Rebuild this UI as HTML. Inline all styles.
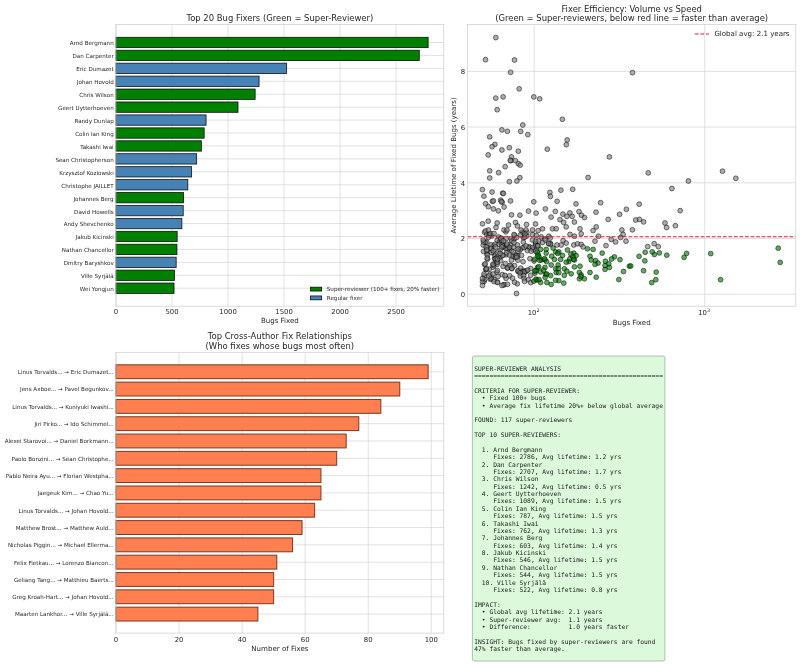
<!DOCTYPE html>
<html><head><meta charset="utf-8"><title>Super-Reviewer Analysis</title>
<style>html,body{margin:0;padding:0;background:#fff}svg text{white-space:pre}</style></head>
<body>
<svg width="800" height="664" viewBox="0 0 800 664" style="display:block">
<rect width="800" height="664" fill="#fff"/>
<rect x="116.0" y="24.5" width="327.75" height="281.7" fill="#fff"/>
<line x1="116.00" y1="24.5" x2="116.00" y2="306.2" stroke="#d0d0d0" stroke-width="0.65"/>
<text x="116.00" y="314.10" font-size="6.9" text-anchor="middle" font-family="'DejaVu Sans','Liberation Sans',sans-serif" fill="#262626" >0</text>
<line x1="172.02" y1="24.5" x2="172.02" y2="306.2" stroke="#d0d0d0" stroke-width="0.65"/>
<text x="172.02" y="314.10" font-size="6.9" text-anchor="middle" font-family="'DejaVu Sans','Liberation Sans',sans-serif" fill="#262626" >500</text>
<line x1="228.04" y1="24.5" x2="228.04" y2="306.2" stroke="#d0d0d0" stroke-width="0.65"/>
<text x="228.04" y="314.10" font-size="6.9" text-anchor="middle" font-family="'DejaVu Sans','Liberation Sans',sans-serif" fill="#262626" >1000</text>
<line x1="284.06" y1="24.5" x2="284.06" y2="306.2" stroke="#d0d0d0" stroke-width="0.65"/>
<text x="284.06" y="314.10" font-size="6.9" text-anchor="middle" font-family="'DejaVu Sans','Liberation Sans',sans-serif" fill="#262626" >1500</text>
<line x1="340.08" y1="24.5" x2="340.08" y2="306.2" stroke="#d0d0d0" stroke-width="0.65"/>
<text x="340.08" y="314.10" font-size="6.9" text-anchor="middle" font-family="'DejaVu Sans','Liberation Sans',sans-serif" fill="#262626" >2000</text>
<line x1="396.10" y1="24.5" x2="396.10" y2="306.2" stroke="#d0d0d0" stroke-width="0.65"/>
<text x="396.10" y="314.10" font-size="6.9" text-anchor="middle" font-family="'DejaVu Sans','Liberation Sans',sans-serif" fill="#262626" >2500</text>
<line x1="116.0" y1="42.48" x2="443.75" y2="42.48" stroke="#d0d0d0" stroke-width="0.65"/>
<line x1="116.0" y1="55.41" x2="443.75" y2="55.41" stroke="#d0d0d0" stroke-width="0.65"/>
<line x1="116.0" y1="68.35" x2="443.75" y2="68.35" stroke="#d0d0d0" stroke-width="0.65"/>
<line x1="116.0" y1="81.28" x2="443.75" y2="81.28" stroke="#d0d0d0" stroke-width="0.65"/>
<line x1="116.0" y1="94.21" x2="443.75" y2="94.21" stroke="#d0d0d0" stroke-width="0.65"/>
<line x1="116.0" y1="107.15" x2="443.75" y2="107.15" stroke="#d0d0d0" stroke-width="0.65"/>
<line x1="116.0" y1="120.08" x2="443.75" y2="120.08" stroke="#d0d0d0" stroke-width="0.65"/>
<line x1="116.0" y1="133.02" x2="443.75" y2="133.02" stroke="#d0d0d0" stroke-width="0.65"/>
<line x1="116.0" y1="145.95" x2="443.75" y2="145.95" stroke="#d0d0d0" stroke-width="0.65"/>
<line x1="116.0" y1="158.88" x2="443.75" y2="158.88" stroke="#d0d0d0" stroke-width="0.65"/>
<line x1="116.0" y1="171.82" x2="443.75" y2="171.82" stroke="#d0d0d0" stroke-width="0.65"/>
<line x1="116.0" y1="184.75" x2="443.75" y2="184.75" stroke="#d0d0d0" stroke-width="0.65"/>
<line x1="116.0" y1="197.68" x2="443.75" y2="197.68" stroke="#d0d0d0" stroke-width="0.65"/>
<line x1="116.0" y1="210.62" x2="443.75" y2="210.62" stroke="#d0d0d0" stroke-width="0.65"/>
<line x1="116.0" y1="223.55" x2="443.75" y2="223.55" stroke="#d0d0d0" stroke-width="0.65"/>
<line x1="116.0" y1="236.49" x2="443.75" y2="236.49" stroke="#d0d0d0" stroke-width="0.65"/>
<line x1="116.0" y1="249.42" x2="443.75" y2="249.42" stroke="#d0d0d0" stroke-width="0.65"/>
<line x1="116.0" y1="262.35" x2="443.75" y2="262.35" stroke="#d0d0d0" stroke-width="0.65"/>
<line x1="116.0" y1="275.29" x2="443.75" y2="275.29" stroke="#d0d0d0" stroke-width="0.65"/>
<line x1="116.0" y1="288.22" x2="443.75" y2="288.22" stroke="#d0d0d0" stroke-width="0.65"/>
<rect x="116.0" y="37.30" width="312.14" height="10.35" fill="#008000" stroke="#000" stroke-opacity="0.9" stroke-width="0.8"/>
<text x="113.70" y="45.38" font-size="5.6" text-anchor="end" font-family="'DejaVu Sans','Liberation Sans',sans-serif" fill="#262626" >Arnd Bergmann</text>
<rect x="116.0" y="50.24" width="303.29" height="10.35" fill="#008000" stroke="#000" stroke-opacity="0.9" stroke-width="0.8"/>
<text x="113.70" y="58.31" font-size="5.6" text-anchor="end" font-family="'DejaVu Sans','Liberation Sans',sans-serif" fill="#262626" >Dan Carpenter</text>
<rect x="116.0" y="63.17" width="170.64" height="10.35" fill="#4682b4" stroke="#000" stroke-opacity="0.9" stroke-width="0.8"/>
<text x="113.70" y="71.25" font-size="5.6" text-anchor="end" font-family="'DejaVu Sans','Liberation Sans',sans-serif" fill="#262626" >Eric Dumazet</text>
<rect x="116.0" y="76.11" width="143.07" height="10.35" fill="#4682b4" stroke="#000" stroke-opacity="0.9" stroke-width="0.8"/>
<text x="113.70" y="84.18" font-size="5.6" text-anchor="end" font-family="'DejaVu Sans','Liberation Sans',sans-serif" fill="#262626" >Johan Hovold</text>
<rect x="116.0" y="89.04" width="139.15" height="10.35" fill="#008000" stroke="#000" stroke-opacity="0.9" stroke-width="0.8"/>
<text x="113.70" y="97.11" font-size="5.6" text-anchor="end" font-family="'DejaVu Sans','Liberation Sans',sans-serif" fill="#262626" >Chris Wilson</text>
<rect x="116.0" y="101.97" width="122.01" height="10.35" fill="#008000" stroke="#000" stroke-opacity="0.9" stroke-width="0.8"/>
<text x="113.70" y="110.05" font-size="5.6" text-anchor="end" font-family="'DejaVu Sans','Liberation Sans',sans-serif" fill="#262626" >Geert Uytterhoeven</text>
<rect x="116.0" y="114.91" width="90.08" height="10.35" fill="#4682b4" stroke="#000" stroke-opacity="0.9" stroke-width="0.8"/>
<text x="113.70" y="122.98" font-size="5.6" text-anchor="end" font-family="'DejaVu Sans','Liberation Sans',sans-serif" fill="#262626" >Randy Dunlap</text>
<rect x="116.0" y="127.84" width="88.18" height="10.35" fill="#008000" stroke="#000" stroke-opacity="0.9" stroke-width="0.8"/>
<text x="113.70" y="135.92" font-size="5.6" text-anchor="end" font-family="'DejaVu Sans','Liberation Sans',sans-serif" fill="#262626" >Colin Ian King</text>
<rect x="116.0" y="140.78" width="85.37" height="10.35" fill="#008000" stroke="#000" stroke-opacity="0.9" stroke-width="0.8"/>
<text x="113.70" y="148.85" font-size="5.6" text-anchor="end" font-family="'DejaVu Sans','Liberation Sans',sans-serif" fill="#262626" >Takashi Iwai</text>
<rect x="116.0" y="153.71" width="80.67" height="10.35" fill="#4682b4" stroke="#000" stroke-opacity="0.9" stroke-width="0.8"/>
<text x="113.70" y="161.78" font-size="5.6" text-anchor="end" font-family="'DejaVu Sans','Liberation Sans',sans-serif" fill="#262626" >Sean Christopherson</text>
<rect x="116.0" y="166.64" width="75.63" height="10.35" fill="#4682b4" stroke="#000" stroke-opacity="0.9" stroke-width="0.8"/>
<text x="113.70" y="174.72" font-size="5.6" text-anchor="end" font-family="'DejaVu Sans','Liberation Sans',sans-serif" fill="#262626" >Krzysztof Kozlowski</text>
<rect x="116.0" y="179.58" width="71.82" height="10.35" fill="#4682b4" stroke="#000" stroke-opacity="0.9" stroke-width="0.8"/>
<text x="113.70" y="187.65" font-size="5.6" text-anchor="end" font-family="'DejaVu Sans','Liberation Sans',sans-serif" fill="#262626" >Christophe JAILLET</text>
<rect x="116.0" y="192.51" width="67.56" height="10.35" fill="#008000" stroke="#000" stroke-opacity="0.9" stroke-width="0.8"/>
<text x="113.70" y="200.58" font-size="5.6" text-anchor="end" font-family="'DejaVu Sans','Liberation Sans',sans-serif" fill="#262626" >Johannes Berg</text>
<rect x="116.0" y="205.45" width="67.22" height="10.35" fill="#4682b4" stroke="#000" stroke-opacity="0.9" stroke-width="0.8"/>
<text x="113.70" y="213.52" font-size="5.6" text-anchor="end" font-family="'DejaVu Sans','Liberation Sans',sans-serif" fill="#262626" >David Howells</text>
<rect x="116.0" y="218.38" width="65.88" height="10.35" fill="#4682b4" stroke="#000" stroke-opacity="0.9" stroke-width="0.8"/>
<text x="113.70" y="226.45" font-size="5.6" text-anchor="end" font-family="'DejaVu Sans','Liberation Sans',sans-serif" fill="#262626" >Andy Shevchenko</text>
<rect x="116.0" y="231.31" width="61.17" height="10.35" fill="#008000" stroke="#000" stroke-opacity="0.9" stroke-width="0.8"/>
<text x="113.70" y="239.39" font-size="5.6" text-anchor="end" font-family="'DejaVu Sans','Liberation Sans',sans-serif" fill="#262626" >Jakub Kicinski</text>
<rect x="116.0" y="244.25" width="60.95" height="10.35" fill="#008000" stroke="#000" stroke-opacity="0.9" stroke-width="0.8"/>
<text x="113.70" y="252.32" font-size="5.6" text-anchor="end" font-family="'DejaVu Sans','Liberation Sans',sans-serif" fill="#262626" >Nathan Chancellor</text>
<rect x="116.0" y="257.18" width="60.17" height="10.35" fill="#4682b4" stroke="#000" stroke-opacity="0.9" stroke-width="0.8"/>
<text x="113.70" y="265.25" font-size="5.6" text-anchor="end" font-family="'DejaVu Sans','Liberation Sans',sans-serif" fill="#262626" >Dmitry Baryshkov</text>
<rect x="116.0" y="270.11" width="58.48" height="10.35" fill="#008000" stroke="#000" stroke-opacity="0.9" stroke-width="0.8"/>
<text x="113.70" y="278.19" font-size="5.6" text-anchor="end" font-family="'DejaVu Sans','Liberation Sans',sans-serif" fill="#262626" >Ville Syrjälä</text>
<rect x="116.0" y="283.05" width="58.04" height="10.35" fill="#008000" stroke="#000" stroke-opacity="0.9" stroke-width="0.8"/>
<text x="113.70" y="291.12" font-size="5.6" text-anchor="end" font-family="'DejaVu Sans','Liberation Sans',sans-serif" fill="#262626" >Wei Yongjun</text>
<rect x="116.0" y="24.5" width="327.75" height="281.7" fill="none" stroke="#cccccc" stroke-width="0.7"/>
<text x="279.88" y="20.60" font-size="8.43" text-anchor="middle" font-family="'DejaVu Sans','Liberation Sans',sans-serif" fill="#262626" >Top 20 Bug Fixers (Green = Super-Reviewer)</text>
<text x="279.88" y="323.30" font-size="7.05" text-anchor="middle" font-family="'DejaVu Sans','Liberation Sans',sans-serif" fill="#262626" >Bugs Fixed</text>
<rect x="310.5" y="287.15" width="11.2" height="3.9" fill="#008000" stroke="#000" stroke-width="0.7"/>
<rect x="310.5" y="295.95" width="11.2" height="3.9" fill="#4682b4" stroke="#000" stroke-width="0.7"/>
<text x="326.80" y="291.10" font-size="5.6" text-anchor="start" font-family="'DejaVu Sans','Liberation Sans',sans-serif" fill="#262626" >Super-reviewer (100+ fixes, 20% faster)</text>
<text x="326.80" y="299.90" font-size="5.6" text-anchor="start" font-family="'DejaVu Sans','Liberation Sans',sans-serif" fill="#262626" >Regular fixer</text>
<rect x="467.5" y="24.5" width="328.29999999999995" height="281.7" fill="#fff"/>
<line x1="534.20" y1="24.5" x2="534.20" y2="306.2" stroke="#d0d0d0" stroke-width="0.65"/>
<text x="533.60" y="315.10" font-size="6.9" text-anchor="middle" font-family="'DejaVu Sans','Liberation Sans',sans-serif" fill="#262626">10<tspan font-size="4.9" dy="-3">2</tspan></text>
<line x1="704.70" y1="24.5" x2="704.70" y2="306.2" stroke="#d0d0d0" stroke-width="0.65"/>
<text x="704.10" y="315.10" font-size="6.9" text-anchor="middle" font-family="'DejaVu Sans','Liberation Sans',sans-serif" fill="#262626">10<tspan font-size="4.9" dy="-3">3</tspan></text>
<line x1="467.5" y1="294.20" x2="795.8" y2="294.20" stroke="#d0d0d0" stroke-width="0.65"/>
<text x="465.20" y="297.10" font-size="6.9" text-anchor="end" font-family="'DejaVu Sans','Liberation Sans',sans-serif" fill="#262626" >0</text>
<line x1="467.5" y1="238.50" x2="795.8" y2="238.50" stroke="#d0d0d0" stroke-width="0.65"/>
<text x="465.20" y="241.40" font-size="6.9" text-anchor="end" font-family="'DejaVu Sans','Liberation Sans',sans-serif" fill="#262626" >2</text>
<line x1="467.5" y1="182.80" x2="795.8" y2="182.80" stroke="#d0d0d0" stroke-width="0.65"/>
<text x="465.20" y="185.70" font-size="6.9" text-anchor="end" font-family="'DejaVu Sans','Liberation Sans',sans-serif" fill="#262626" >4</text>
<line x1="467.5" y1="127.10" x2="795.8" y2="127.10" stroke="#d0d0d0" stroke-width="0.65"/>
<text x="465.20" y="130.00" font-size="6.9" text-anchor="end" font-family="'DejaVu Sans','Liberation Sans',sans-serif" fill="#262626" >6</text>
<line x1="467.5" y1="71.40" x2="795.8" y2="71.40" stroke="#d0d0d0" stroke-width="0.65"/>
<text x="465.20" y="74.30" font-size="6.9" text-anchor="end" font-family="'DejaVu Sans','Liberation Sans',sans-serif" fill="#262626" >8</text>
<clipPath id="c2"><rect x="467.5" y="24.5" width="328.29999999999995" height="281.7"/></clipPath>
<g clip-path="url(#c2)">
<g fill="#808080" fill-opacity="0.64" stroke="#000" stroke-opacity="0.72" stroke-width="0.72">
<circle cx="501.3" cy="241.8" r="2.42"/>
<circle cx="500.3" cy="257.3" r="2.42"/>
<circle cx="523.3" cy="233.0" r="2.42"/>
<circle cx="536.2" cy="235.5" r="2.42"/>
<circle cx="515.4" cy="257.3" r="2.42"/>
<circle cx="496.0" cy="260.2" r="2.42"/>
<circle cx="484.6" cy="232.3" r="2.42"/>
<circle cx="500.6" cy="260.7" r="2.42"/>
<circle cx="493.4" cy="245.7" r="2.42"/>
<circle cx="511.1" cy="238.9" r="2.42"/>
<circle cx="489.9" cy="274.1" r="2.42"/>
<circle cx="498.6" cy="237.0" r="2.42"/>
<circle cx="506.1" cy="254.8" r="2.42"/>
<circle cx="521.7" cy="272.2" r="2.42"/>
<circle cx="484.6" cy="264.6" r="2.42"/>
<circle cx="493.3" cy="264.6" r="2.42"/>
<circle cx="491.7" cy="277.3" r="2.42"/>
<circle cx="491.1" cy="244.8" r="2.42"/>
<circle cx="508.4" cy="247.1" r="2.42"/>
<circle cx="517.9" cy="255.7" r="2.42"/>
<circle cx="501.2" cy="238.1" r="2.42"/>
<circle cx="493.4" cy="252.8" r="2.42"/>
<circle cx="522.2" cy="248.0" r="2.42"/>
<circle cx="522.9" cy="270.3" r="2.42"/>
<circle cx="491.2" cy="248.9" r="2.42"/>
<circle cx="508.9" cy="248.4" r="2.42"/>
<circle cx="511.5" cy="250.4" r="2.42"/>
<circle cx="503.9" cy="246.9" r="2.42"/>
<circle cx="530.7" cy="268.6" r="2.42"/>
<circle cx="529.2" cy="246.6" r="2.42"/>
<circle cx="487.1" cy="247.5" r="2.42"/>
<circle cx="496.9" cy="272.3" r="2.42"/>
<circle cx="507.4" cy="268.1" r="2.42"/>
<circle cx="483.2" cy="245.1" r="2.42"/>
<circle cx="489.3" cy="234.5" r="2.42"/>
<circle cx="504.4" cy="247.4" r="2.42"/>
<circle cx="490.4" cy="279.4" r="2.42"/>
<circle cx="484.1" cy="281.5" r="2.42"/>
<circle cx="515.1" cy="255.1" r="2.42"/>
<circle cx="503.7" cy="284.9" r="2.42"/>
<circle cx="512.2" cy="256.1" r="2.42"/>
<circle cx="497.2" cy="240.2" r="2.42"/>
<circle cx="507.6" cy="249.0" r="2.42"/>
<circle cx="522.4" cy="232.1" r="2.42"/>
<circle cx="494.9" cy="256.2" r="2.42"/>
<circle cx="513.1" cy="251.8" r="2.42"/>
<circle cx="487.6" cy="259.2" r="2.42"/>
<circle cx="514.5" cy="265.6" r="2.42"/>
<circle cx="522.4" cy="271.5" r="2.42"/>
<circle cx="529.9" cy="258.7" r="2.42"/>
<circle cx="506.2" cy="238.5" r="2.42"/>
<circle cx="502.9" cy="255.2" r="2.42"/>
<circle cx="510.9" cy="266.0" r="2.42"/>
<circle cx="533.0" cy="249.4" r="2.42"/>
<circle cx="513.4" cy="247.2" r="2.42"/>
<circle cx="530.7" cy="275.2" r="2.42"/>
<circle cx="484.9" cy="279.4" r="2.42"/>
<circle cx="509.7" cy="275.8" r="2.42"/>
<circle cx="486.7" cy="253.7" r="2.42"/>
<circle cx="494.0" cy="279.5" r="2.42"/>
<circle cx="506.6" cy="252.9" r="2.42"/>
<circle cx="517.3" cy="283.8" r="2.42"/>
<circle cx="510.8" cy="244.6" r="2.42"/>
<circle cx="503.6" cy="245.2" r="2.42"/>
<circle cx="517.9" cy="260.2" r="2.42"/>
<circle cx="502.3" cy="274.6" r="2.42"/>
<circle cx="497.7" cy="256.8" r="2.42"/>
<circle cx="520.3" cy="276.0" r="2.42"/>
<circle cx="526.8" cy="232.3" r="2.42"/>
<circle cx="523.5" cy="237.9" r="2.42"/>
<circle cx="526.6" cy="235.9" r="2.42"/>
<circle cx="486.8" cy="242.1" r="2.42"/>
<circle cx="511.4" cy="260.2" r="2.42"/>
<circle cx="485.2" cy="263.9" r="2.42"/>
<circle cx="535.6" cy="243.4" r="2.42"/>
<circle cx="520.1" cy="249.9" r="2.42"/>
<circle cx="509.5" cy="255.1" r="2.42"/>
<circle cx="507.9" cy="267.9" r="2.42"/>
<circle cx="495.0" cy="244.3" r="2.42"/>
<circle cx="498.5" cy="251.6" r="2.42"/>
<circle cx="493.0" cy="274.0" r="2.42"/>
<circle cx="486.7" cy="250.5" r="2.42"/>
<circle cx="526.5" cy="270.8" r="2.42"/>
<circle cx="505.9" cy="248.4" r="2.42"/>
<circle cx="504.2" cy="284.6" r="2.42"/>
<circle cx="518.0" cy="271.6" r="2.42"/>
<circle cx="492.9" cy="267.2" r="2.42"/>
<circle cx="499.6" cy="241.9" r="2.42"/>
<circle cx="518.0" cy="251.2" r="2.42"/>
<circle cx="525.3" cy="272.0" r="2.42"/>
<circle cx="491.6" cy="252.6" r="2.42"/>
<circle cx="514.1" cy="239.0" r="2.42"/>
<circle cx="503.5" cy="246.3" r="2.42"/>
<circle cx="528.9" cy="247.9" r="2.42"/>
<circle cx="528.2" cy="279.8" r="2.42"/>
<circle cx="486.8" cy="234.5" r="2.42"/>
<circle cx="494.6" cy="258.8" r="2.42"/>
<circle cx="534.0" cy="261.0" r="2.42"/>
<circle cx="485.1" cy="242.3" r="2.42"/>
<circle cx="501.4" cy="241.1" r="2.42"/>
<circle cx="491.9" cy="235.9" r="2.42"/>
<circle cx="490.9" cy="248.3" r="2.42"/>
<circle cx="527.4" cy="250.6" r="2.42"/>
<circle cx="503.1" cy="266.4" r="2.42"/>
<circle cx="499.1" cy="244.4" r="2.42"/>
<circle cx="518.9" cy="270.8" r="2.42"/>
<circle cx="500.2" cy="250.1" r="2.42"/>
<circle cx="493.2" cy="250.7" r="2.42"/>
<circle cx="524.8" cy="237.1" r="2.42"/>
<circle cx="487.5" cy="255.3" r="2.42"/>
<circle cx="518.0" cy="270.6" r="2.42"/>
<circle cx="496.2" cy="262.8" r="2.42"/>
<circle cx="524.3" cy="272.0" r="2.42"/>
<circle cx="496.4" cy="258.0" r="2.42"/>
<circle cx="523.3" cy="242.1" r="2.42"/>
<circle cx="487.1" cy="258.2" r="2.42"/>
<circle cx="497.3" cy="270.4" r="2.42"/>
<circle cx="500.9" cy="238.7" r="2.42"/>
<circle cx="483.5" cy="241.9" r="2.42"/>
<circle cx="506.9" cy="245.2" r="2.42"/>
<circle cx="511.9" cy="268.7" r="2.42"/>
<circle cx="511.8" cy="241.1" r="2.42"/>
<circle cx="484.3" cy="275.9" r="2.42"/>
<circle cx="520.0" cy="272.8" r="2.42"/>
<circle cx="517.4" cy="245.0" r="2.42"/>
<circle cx="497.5" cy="282.1" r="2.42"/>
<circle cx="489.3" cy="269.1" r="2.42"/>
<circle cx="489.3" cy="235.5" r="2.42"/>
<circle cx="486.2" cy="247.0" r="2.42"/>
<circle cx="514.6" cy="235.3" r="2.42"/>
<circle cx="514.0" cy="242.5" r="2.42"/>
<circle cx="485.8" cy="269.4" r="2.42"/>
<circle cx="505.8" cy="231.8" r="2.42"/>
<circle cx="502.0" cy="244.9" r="2.42"/>
<circle cx="493.8" cy="265.6" r="2.42"/>
<circle cx="524.1" cy="247.4" r="2.42"/>
<circle cx="527.6" cy="270.1" r="2.42"/>
<circle cx="523.1" cy="261.7" r="2.42"/>
<circle cx="495.5" cy="247.0" r="2.42"/>
<circle cx="516.5" cy="237.6" r="2.42"/>
<circle cx="509.5" cy="247.4" r="2.42"/>
<circle cx="502.6" cy="255.3" r="2.42"/>
<circle cx="503.4" cy="240.8" r="2.42"/>
<circle cx="486.1" cy="269.4" r="2.42"/>
<circle cx="497.2" cy="264.3" r="2.42"/>
<circle cx="535.6" cy="251.1" r="2.42"/>
<circle cx="518.1" cy="249.0" r="2.42"/>
<circle cx="509.9" cy="265.4" r="2.42"/>
<circle cx="501.8" cy="246.9" r="2.42"/>
<circle cx="486.5" cy="268.7" r="2.42"/>
<circle cx="492.9" cy="264.2" r="2.42"/>
<circle cx="532.4" cy="234.4" r="2.42"/>
<circle cx="530.7" cy="282.6" r="2.42"/>
<circle cx="523.6" cy="275.6" r="2.42"/>
<circle cx="506.0" cy="278.3" r="2.42"/>
<circle cx="506.9" cy="244.0" r="2.42"/>
<circle cx="495.4" cy="259.0" r="2.42"/>
<circle cx="483.1" cy="240.0" r="2.42"/>
<circle cx="535.3" cy="246.5" r="2.42"/>
<circle cx="488.4" cy="237.4" r="2.42"/>
<circle cx="497.3" cy="262.1" r="2.42"/>
<circle cx="500.1" cy="253.5" r="2.42"/>
<circle cx="511.7" cy="268.2" r="2.42"/>
<circle cx="497.5" cy="259.2" r="2.42"/>
<circle cx="483.5" cy="251.4" r="2.42"/>
<circle cx="490.2" cy="233.5" r="2.42"/>
<circle cx="520.5" cy="234.9" r="2.42"/>
<circle cx="521.6" cy="255.4" r="2.42"/>
<circle cx="515.4" cy="257.3" r="2.42"/>
<circle cx="520.6" cy="268.1" r="2.42"/>
<circle cx="486.7" cy="250.0" r="2.42"/>
<circle cx="516.4" cy="255.9" r="2.42"/>
<circle cx="505.3" cy="263.6" r="2.42"/>
<circle cx="526.0" cy="245.9" r="2.42"/>
<circle cx="516.6" cy="257.3" r="2.42"/>
<circle cx="495.8" cy="37.6" r="2.42"/>
<circle cx="485.5" cy="59.7" r="2.42"/>
<circle cx="514.5" cy="60.0" r="2.42"/>
<circle cx="510.6" cy="72.3" r="2.42"/>
<circle cx="519.2" cy="88.8" r="2.42"/>
<circle cx="495.8" cy="98.1" r="2.42"/>
<circle cx="503.1" cy="96.9" r="2.42"/>
<circle cx="533.8" cy="96.9" r="2.42"/>
<circle cx="539.7" cy="98.8" r="2.42"/>
<circle cx="497.2" cy="109.7" r="2.42"/>
<circle cx="562.4" cy="119.3" r="2.42"/>
<circle cx="522.8" cy="125.0" r="2.42"/>
<circle cx="501.9" cy="129.9" r="2.42"/>
<circle cx="507.4" cy="131.3" r="2.42"/>
<circle cx="520.7" cy="131.4" r="2.42"/>
<circle cx="527.8" cy="134.6" r="2.42"/>
<circle cx="489.7" cy="136.9" r="2.42"/>
<circle cx="494.9" cy="144.4" r="2.42"/>
<circle cx="492.1" cy="146.7" r="2.42"/>
<circle cx="509.4" cy="147.7" r="2.42"/>
<circle cx="501.9" cy="150.0" r="2.42"/>
<circle cx="518.3" cy="151.2" r="2.42"/>
<circle cx="488.2" cy="154.9" r="2.42"/>
<circle cx="511.5" cy="156.9" r="2.42"/>
<circle cx="510.9" cy="160.7" r="2.42"/>
<circle cx="515.4" cy="160.7" r="2.42"/>
<circle cx="518.4" cy="163.7" r="2.42"/>
<circle cx="520.2" cy="165.2" r="2.42"/>
<circle cx="505.2" cy="166.7" r="2.42"/>
<circle cx="489.7" cy="170.8" r="2.42"/>
<circle cx="498.6" cy="172.7" r="2.42"/>
<circle cx="489.7" cy="178.0" r="2.42"/>
<circle cx="519.9" cy="177.7" r="2.42"/>
<circle cx="516.9" cy="181.0" r="2.42"/>
<circle cx="509.4" cy="181.7" r="2.42"/>
<circle cx="547.3" cy="149.2" r="2.42"/>
<circle cx="567.2" cy="140.0" r="2.42"/>
<circle cx="566.3" cy="144.7" r="2.42"/>
<circle cx="482.4" cy="189.6" r="2.42"/>
<circle cx="492.1" cy="192.0" r="2.42"/>
<circle cx="502.6" cy="193.2" r="2.42"/>
<circle cx="483.9" cy="196.2" r="2.42"/>
<circle cx="492.4" cy="201.3" r="2.42"/>
<circle cx="500.7" cy="200.1" r="2.42"/>
<circle cx="502.2" cy="202.2" r="2.42"/>
<circle cx="510.5" cy="200.9" r="2.42"/>
<circle cx="485.6" cy="203.7" r="2.42"/>
<circle cx="488.3" cy="206.7" r="2.42"/>
<circle cx="493.4" cy="208.9" r="2.42"/>
<circle cx="504.1" cy="207.0" r="2.42"/>
<circle cx="498.4" cy="210.8" r="2.42"/>
<circle cx="511.5" cy="214.9" r="2.42"/>
<circle cx="519.9" cy="215.2" r="2.42"/>
<circle cx="528.5" cy="211.1" r="2.42"/>
<circle cx="533.8" cy="201.8" r="2.42"/>
<circle cx="536.1" cy="213.1" r="2.42"/>
<circle cx="545.4" cy="208.9" r="2.42"/>
<circle cx="549.9" cy="192.4" r="2.42"/>
<circle cx="550.4" cy="196.4" r="2.42"/>
<circle cx="557.1" cy="201.3" r="2.42"/>
<circle cx="560.9" cy="190.2" r="2.42"/>
<circle cx="572.7" cy="189.3" r="2.42"/>
<circle cx="576.0" cy="203.9" r="2.42"/>
<circle cx="555.3" cy="211.4" r="2.42"/>
<circle cx="562.9" cy="214.1" r="2.42"/>
<circle cx="569.9" cy="212.9" r="2.42"/>
<circle cx="579.0" cy="211.6" r="2.42"/>
<circle cx="551.1" cy="217.1" r="2.42"/>
<circle cx="566.9" cy="216.4" r="2.42"/>
<circle cx="572.2" cy="216.4" r="2.42"/>
<circle cx="632.5" cy="72.7" r="2.42"/>
<circle cx="609.4" cy="156.9" r="2.42"/>
<circle cx="588.1" cy="177.5" r="2.42"/>
<circle cx="648.2" cy="172.9" r="2.42"/>
<circle cx="688.4" cy="181.0" r="2.42"/>
<circle cx="671.9" cy="188.5" r="2.42"/>
<circle cx="600.6" cy="202.7" r="2.42"/>
<circle cx="639.2" cy="204.2" r="2.42"/>
<circle cx="626.4" cy="209.3" r="2.42"/>
<circle cx="596.0" cy="212.2" r="2.42"/>
<circle cx="619.6" cy="214.3" r="2.42"/>
<circle cx="680.2" cy="210.7" r="2.42"/>
<circle cx="581.5" cy="215.2" r="2.42"/>
<circle cx="584.5" cy="217.6" r="2.42"/>
<circle cx="608.2" cy="219.4" r="2.42"/>
<circle cx="639.5" cy="219.4" r="2.42"/>
<circle cx="635.7" cy="220.0" r="2.42"/>
<circle cx="722.5" cy="171.2" r="2.42"/>
<circle cx="735.8" cy="178.3" r="2.42"/>
<circle cx="482.5" cy="285.5" r="2.42"/>
<circle cx="482.5" cy="281.5" r="2.42"/>
<circle cx="482.5" cy="278.5" r="2.42"/>
<circle cx="484.0" cy="274.0" r="2.42"/>
<circle cx="491.0" cy="278.5" r="2.42"/>
<circle cx="494.0" cy="281.5" r="2.42"/>
<circle cx="497.5" cy="282.5" r="2.42"/>
<circle cx="502.0" cy="285.5" r="2.42"/>
<circle cx="507.5" cy="284.3" r="2.42"/>
<circle cx="505.0" cy="275.5" r="2.42"/>
<circle cx="514.5" cy="282.2" r="2.42"/>
<circle cx="512.5" cy="278.2" r="2.42"/>
<circle cx="516.5" cy="293.5" r="2.42"/>
<circle cx="524.0" cy="278.5" r="2.42"/>
<circle cx="524.5" cy="281.3" r="2.42"/>
<circle cx="498.0" cy="276.5" r="2.42"/>
<circle cx="489.0" cy="276.0" r="2.42"/>
<circle cx="532.5" cy="230.0" r="2.42"/>
<circle cx="538.1" cy="230.6" r="2.42"/>
<circle cx="542.5" cy="228.8" r="2.42"/>
<circle cx="552.5" cy="228.8" r="2.42"/>
<circle cx="556.2" cy="228.8" r="2.42"/>
<circle cx="566.2" cy="226.9" r="2.42"/>
<circle cx="580.0" cy="228.8" r="2.42"/>
<circle cx="581.2" cy="233.8" r="2.42"/>
<circle cx="570.0" cy="234.4" r="2.42"/>
<circle cx="574.4" cy="236.2" r="2.42"/>
<circle cx="593.1" cy="230.6" r="2.42"/>
<circle cx="596.2" cy="226.9" r="2.42"/>
<circle cx="598.5" cy="236.2" r="2.42"/>
<circle cx="595.0" cy="241.2" r="2.42"/>
<circle cx="606.0" cy="245.6" r="2.42"/>
<circle cx="611.2" cy="239.4" r="2.42"/>
<circle cx="615.6" cy="241.9" r="2.42"/>
<circle cx="621.9" cy="230.0" r="2.42"/>
<circle cx="623.1" cy="234.4" r="2.42"/>
<circle cx="620.6" cy="237.5" r="2.42"/>
<circle cx="626.0" cy="241.2" r="2.42"/>
<circle cx="548.8" cy="236.2" r="2.42"/>
<circle cx="563.1" cy="240.6" r="2.42"/>
<circle cx="566.2" cy="243.1" r="2.42"/>
<circle cx="561.2" cy="245.0" r="2.42"/>
<circle cx="573.8" cy="245.0" r="2.42"/>
<circle cx="577.5" cy="243.8" r="2.42"/>
<circle cx="581.2" cy="244.4" r="2.42"/>
<circle cx="583.1" cy="246.9" r="2.42"/>
<circle cx="556.9" cy="245.0" r="2.42"/>
<circle cx="541.2" cy="236.9" r="2.42"/>
<circle cx="532.5" cy="240.0" r="2.42"/>
<circle cx="535.6" cy="245.0" r="2.42"/>
<circle cx="542.5" cy="242.5" r="2.42"/>
<circle cx="548.8" cy="243.8" r="2.42"/>
<circle cx="532.5" cy="247.5" r="2.42"/>
<circle cx="531.2" cy="251.2" r="2.42"/>
<circle cx="643.6" cy="221.9" r="2.42"/>
<circle cx="632.4" cy="229.8" r="2.42"/>
<circle cx="665.0" cy="223.0" r="2.42"/>
<circle cx="666.6" cy="227.5" r="2.42"/>
<circle cx="675.4" cy="225.7" r="2.42"/>
<circle cx="647.7" cy="246.6" r="2.42"/>
<circle cx="654.2" cy="243.7" r="2.42"/>
<circle cx="658.3" cy="246.6" r="2.42"/>
<circle cx="482.5" cy="223.8" r="2.42"/>
<circle cx="488.2" cy="221.2" r="2.42"/>
<circle cx="497.2" cy="223.0" r="2.42"/>
<circle cx="496.0" cy="227.5" r="2.42"/>
<circle cx="508.5" cy="225.0" r="2.42"/>
<circle cx="515.5" cy="222.5" r="2.42"/>
<circle cx="517.5" cy="226.0" r="2.42"/>
<circle cx="521.0" cy="230.0" r="2.42"/>
<circle cx="526.5" cy="224.5" r="2.42"/>
<circle cx="526.0" cy="230.0" r="2.42"/>
<circle cx="535.5" cy="224.0" r="2.42"/>
<circle cx="485.5" cy="231.0" r="2.42"/>
<circle cx="488.5" cy="230.0" r="2.42"/>
<circle cx="504.0" cy="230.0" r="2.42"/>
<circle cx="507.0" cy="230.0" r="2.42"/>
<circle cx="494.0" cy="233.5" r="2.42"/>
<circle cx="514.0" cy="234.5" r="2.42"/>
<circle cx="525.0" cy="234.0" r="2.42"/>
<circle cx="560.0" cy="219.6" r="2.42"/>
<circle cx="563.6" cy="222.4" r="2.42"/>
<circle cx="574.4" cy="222.0" r="2.42"/>
<circle cx="510.3" cy="160.4" r="2.42"/>
<circle cx="503.4" cy="193.5" r="2.42"/>
<circle cx="493.4" cy="200.9" r="2.42"/>
<circle cx="501.3" cy="201.6" r="2.42"/>
<circle cx="538.6" cy="241.0" r="2.42"/>
<circle cx="550.5" cy="243.5" r="2.42"/>
<circle cx="550.2" cy="238.1" r="2.42"/>
<circle cx="550.5" cy="244.3" r="2.42"/>
<circle cx="538.0" cy="245.7" r="2.42"/>
<circle cx="537.6" cy="245.9" r="2.42"/>
<circle cx="544.8" cy="238.9" r="2.42"/>
<circle cx="548.5" cy="243.2" r="2.42"/>
<circle cx="545.3" cy="240.0" r="2.42"/>
<circle cx="535.6" cy="241.3" r="2.42"/>
</g>
<g fill="#008000" fill-opacity="0.64" stroke="#000" stroke-opacity="0.72" stroke-width="0.72">
<circle cx="540.6" cy="249.4" r="2.42"/>
<circle cx="546.2" cy="249.4" r="2.42"/>
<circle cx="553.1" cy="248.1" r="2.42"/>
<circle cx="567.5" cy="250.0" r="2.42"/>
<circle cx="587.5" cy="248.8" r="2.42"/>
<circle cx="593.1" cy="249.4" r="2.42"/>
<circle cx="538.1" cy="254.4" r="2.42"/>
<circle cx="546.2" cy="253.1" r="2.42"/>
<circle cx="555.6" cy="251.9" r="2.42"/>
<circle cx="558.8" cy="251.9" r="2.42"/>
<circle cx="562.5" cy="255.4" r="2.42"/>
<circle cx="573.8" cy="253.1" r="2.42"/>
<circle cx="576.2" cy="255.6" r="2.42"/>
<circle cx="590.0" cy="256.2" r="2.42"/>
<circle cx="602.2" cy="253.1" r="2.42"/>
<circle cx="534.4" cy="259.4" r="2.42"/>
<circle cx="541.2" cy="260.0" r="2.42"/>
<circle cx="554.4" cy="259.4" r="2.42"/>
<circle cx="560.6" cy="259.4" r="2.42"/>
<circle cx="568.8" cy="261.6" r="2.42"/>
<circle cx="574.4" cy="260.0" r="2.42"/>
<circle cx="591.2" cy="260.0" r="2.42"/>
<circle cx="595.6" cy="260.6" r="2.42"/>
<circle cx="598.1" cy="263.1" r="2.42"/>
<circle cx="605.4" cy="261.2" r="2.42"/>
<circle cx="608.8" cy="263.8" r="2.42"/>
<circle cx="614.4" cy="256.9" r="2.42"/>
<circle cx="611.5" cy="259.0" r="2.42"/>
<circle cx="620.0" cy="259.6" r="2.42"/>
<circle cx="537.5" cy="267.5" r="2.42"/>
<circle cx="545.0" cy="267.5" r="2.42"/>
<circle cx="551.2" cy="265.0" r="2.42"/>
<circle cx="555.6" cy="268.8" r="2.42"/>
<circle cx="558.1" cy="265.0" r="2.42"/>
<circle cx="564.4" cy="268.8" r="2.42"/>
<circle cx="566.9" cy="271.2" r="2.42"/>
<circle cx="574.4" cy="266.9" r="2.42"/>
<circle cx="580.0" cy="266.2" r="2.42"/>
<circle cx="579.4" cy="272.5" r="2.42"/>
<circle cx="590.0" cy="272.5" r="2.42"/>
<circle cx="595.0" cy="264.4" r="2.42"/>
<circle cx="605.0" cy="265.6" r="2.42"/>
<circle cx="605.0" cy="269.4" r="2.42"/>
<circle cx="609.4" cy="267.5" r="2.42"/>
<circle cx="623.5" cy="271.5" r="2.42"/>
<circle cx="629.4" cy="266.2" r="2.42"/>
<circle cx="535.0" cy="273.1" r="2.42"/>
<circle cx="540.6" cy="271.9" r="2.42"/>
<circle cx="545.6" cy="274.4" r="2.42"/>
<circle cx="550.6" cy="275.6" r="2.42"/>
<circle cx="556.2" cy="272.5" r="2.42"/>
<circle cx="571.2" cy="273.8" r="2.42"/>
<circle cx="579.4" cy="278.8" r="2.42"/>
<circle cx="581.2" cy="275.0" r="2.42"/>
<circle cx="584.4" cy="278.8" r="2.42"/>
<circle cx="596.2" cy="277.2" r="2.42"/>
<circle cx="618.8" cy="279.6" r="2.42"/>
<circle cx="533.8" cy="281.2" r="2.42"/>
<circle cx="536.9" cy="280.0" r="2.42"/>
<circle cx="540.6" cy="282.5" r="2.42"/>
<circle cx="546.9" cy="282.5" r="2.42"/>
<circle cx="551.2" cy="284.4" r="2.42"/>
<circle cx="558.8" cy="280.6" r="2.42"/>
<circle cx="563.8" cy="283.1" r="2.42"/>
<circle cx="778.2" cy="248.2" r="2.42"/>
<circle cx="780.2" cy="262.4" r="2.42"/>
<circle cx="710.7" cy="253.6" r="2.42"/>
<circle cx="720.6" cy="279.7" r="2.42"/>
<circle cx="686.6" cy="253.4" r="2.42"/>
<circle cx="684.1" cy="257.4" r="2.42"/>
<circle cx="666.8" cy="255.2" r="2.42"/>
<circle cx="659.4" cy="252.9" r="2.42"/>
<circle cx="654.4" cy="254.5" r="2.42"/>
<circle cx="652.2" cy="251.8" r="2.42"/>
<circle cx="645.2" cy="252.3" r="2.42"/>
<circle cx="639.1" cy="256.3" r="2.42"/>
<circle cx="644.8" cy="260.8" r="2.42"/>
<circle cx="630.8" cy="266.0" r="2.42"/>
<circle cx="643.6" cy="270.7" r="2.42"/>
<circle cx="656.2" cy="272.1" r="2.42"/>
<circle cx="655.8" cy="279.7" r="2.42"/>
<circle cx="651.7" cy="282.6" r="2.42"/>
<circle cx="544.9" cy="259.9" r="2.42"/>
<circle cx="546.6" cy="261.6" r="2.42"/>
<circle cx="536.2" cy="270.5" r="2.42"/>
<circle cx="557.7" cy="253.4" r="2.42"/>
<circle cx="543.5" cy="270.2" r="2.42"/>
<circle cx="539.6" cy="260.3" r="2.42"/>
<circle cx="536.0" cy="279.1" r="2.42"/>
<circle cx="544.5" cy="258.6" r="2.42"/>
<circle cx="569.9" cy="258.7" r="2.42"/>
<circle cx="572.8" cy="256.8" r="2.42"/>
<circle cx="573.7" cy="259.2" r="2.42"/>
<circle cx="558.8" cy="272.7" r="2.42"/>
<circle cx="551.7" cy="256.2" r="2.42"/>
<circle cx="564.3" cy="275.4" r="2.42"/>
<circle cx="580.9" cy="276.7" r="2.42"/>
<circle cx="538.7" cy="266.7" r="2.42"/>
<circle cx="558.5" cy="268.5" r="2.42"/>
<circle cx="566.2" cy="262.2" r="2.42"/>
<circle cx="537.2" cy="252.3" r="2.42"/>
<circle cx="539.0" cy="256.9" r="2.42"/>
<circle cx="534.9" cy="271.0" r="2.42"/>
<circle cx="537.8" cy="256.0" r="2.42"/>
<circle cx="539.0" cy="279.6" r="2.42"/>
<circle cx="555.6" cy="280.3" r="2.42"/>
<circle cx="546.7" cy="274.0" r="2.42"/>
<circle cx="545.1" cy="277.4" r="2.42"/>
<circle cx="570.9" cy="254.0" r="2.42"/>
</g>
<line x1="467.5" y1="236.8" x2="795.8" y2="236.8" stroke="#d62030" stroke-width="1.1" stroke-dasharray="3.85 1.7"/>
</g>
<rect x="467.5" y="24.5" width="328.29999999999995" height="281.7" fill="none" stroke="#cccccc" stroke-width="0.7"/>
<text x="631.65" y="11.60" font-size="8.43" text-anchor="middle" font-family="'DejaVu Sans','Liberation Sans',sans-serif" fill="#262626" >Fixer Efficiency: Volume vs Speed</text>
<text x="631.65" y="20.60" font-size="8.43" text-anchor="middle" font-family="'DejaVu Sans','Liberation Sans',sans-serif" fill="#262626" >(Green = Super-reviewers, below red line = faster than average)</text>
<text x="631.65" y="324.80" font-size="7.05" text-anchor="middle" font-family="'DejaVu Sans','Liberation Sans',sans-serif" fill="#262626" >Bugs Fixed</text>
<text transform="translate(456.3,165.35) rotate(-90)" font-size="7.05" text-anchor="middle" font-family="'DejaVu Sans','Liberation Sans',sans-serif" fill="#262626">Average Lifetime of Fixed Bugs (years)</text>
<line x1="694.85" y1="34.0" x2="709" y2="34.0" stroke="#d62030" stroke-width="1.1" stroke-dasharray="3.75 1.8"/>
<text x="714.40" y="36.00" font-size="7.05" text-anchor="start" font-family="'DejaVu Sans','Liberation Sans',sans-serif" fill="#262626" >Global avg: 2.1 years</text>
<rect x="116.0" y="352.3" width="327.75" height="280.8" fill="#fff"/>
<line x1="116.00" y1="352.3" x2="116.00" y2="633.1" stroke="#d0d0d0" stroke-width="0.65"/>
<text x="116.00" y="642.00" font-size="6.9" text-anchor="middle" font-family="'DejaVu Sans','Liberation Sans',sans-serif" fill="#262626" >0</text>
<line x1="179.06" y1="352.3" x2="179.06" y2="633.1" stroke="#d0d0d0" stroke-width="0.65"/>
<text x="179.06" y="642.00" font-size="6.9" text-anchor="middle" font-family="'DejaVu Sans','Liberation Sans',sans-serif" fill="#262626" >20</text>
<line x1="242.12" y1="352.3" x2="242.12" y2="633.1" stroke="#d0d0d0" stroke-width="0.65"/>
<text x="242.12" y="642.00" font-size="6.9" text-anchor="middle" font-family="'DejaVu Sans','Liberation Sans',sans-serif" fill="#262626" >40</text>
<line x1="305.18" y1="352.3" x2="305.18" y2="633.1" stroke="#d0d0d0" stroke-width="0.65"/>
<text x="305.18" y="642.00" font-size="6.9" text-anchor="middle" font-family="'DejaVu Sans','Liberation Sans',sans-serif" fill="#262626" >60</text>
<line x1="368.24" y1="352.3" x2="368.24" y2="633.1" stroke="#d0d0d0" stroke-width="0.65"/>
<text x="368.24" y="642.00" font-size="6.9" text-anchor="middle" font-family="'DejaVu Sans','Liberation Sans',sans-serif" fill="#262626" >80</text>
<line x1="431.30" y1="352.3" x2="431.30" y2="633.1" stroke="#d0d0d0" stroke-width="0.65"/>
<text x="431.30" y="642.00" font-size="6.9" text-anchor="middle" font-family="'DejaVu Sans','Liberation Sans',sans-serif" fill="#262626" >100</text>
<line x1="116.0" y1="371.75" x2="443.75" y2="371.75" stroke="#d0d0d0" stroke-width="0.65"/>
<line x1="116.0" y1="389.06" x2="443.75" y2="389.06" stroke="#d0d0d0" stroke-width="0.65"/>
<line x1="116.0" y1="406.37" x2="443.75" y2="406.37" stroke="#d0d0d0" stroke-width="0.65"/>
<line x1="116.0" y1="423.68" x2="443.75" y2="423.68" stroke="#d0d0d0" stroke-width="0.65"/>
<line x1="116.0" y1="440.99" x2="443.75" y2="440.99" stroke="#d0d0d0" stroke-width="0.65"/>
<line x1="116.0" y1="458.30" x2="443.75" y2="458.30" stroke="#d0d0d0" stroke-width="0.65"/>
<line x1="116.0" y1="475.61" x2="443.75" y2="475.61" stroke="#d0d0d0" stroke-width="0.65"/>
<line x1="116.0" y1="492.92" x2="443.75" y2="492.92" stroke="#d0d0d0" stroke-width="0.65"/>
<line x1="116.0" y1="510.23" x2="443.75" y2="510.23" stroke="#d0d0d0" stroke-width="0.65"/>
<line x1="116.0" y1="527.54" x2="443.75" y2="527.54" stroke="#d0d0d0" stroke-width="0.65"/>
<line x1="116.0" y1="544.85" x2="443.75" y2="544.85" stroke="#d0d0d0" stroke-width="0.65"/>
<line x1="116.0" y1="562.16" x2="443.75" y2="562.16" stroke="#d0d0d0" stroke-width="0.65"/>
<line x1="116.0" y1="579.47" x2="443.75" y2="579.47" stroke="#d0d0d0" stroke-width="0.65"/>
<line x1="116.0" y1="596.78" x2="443.75" y2="596.78" stroke="#d0d0d0" stroke-width="0.65"/>
<line x1="116.0" y1="614.09" x2="443.75" y2="614.09" stroke="#d0d0d0" stroke-width="0.65"/>
<rect x="116.0" y="364.83" width="312.14" height="13.85" fill="#ff7f50" stroke="#7a3820" stroke-width="1.0"/>
<text x="113.70" y="374.15" font-size="5.6" text-anchor="end" font-family="'DejaVu Sans','Liberation Sans',sans-serif" fill="#262626" >Linus Torvalds... → Eric Dumazet...</text>
<rect x="116.0" y="382.14" width="283.77" height="13.85" fill="#ff7f50" stroke="#7a3820" stroke-width="1.0"/>
<text x="113.70" y="391.46" font-size="5.6" text-anchor="end" font-family="'DejaVu Sans','Liberation Sans',sans-serif" fill="#262626" >Jens Axboe... → Pavel Begunkov...</text>
<rect x="116.0" y="399.45" width="264.85" height="13.85" fill="#ff7f50" stroke="#7a3820" stroke-width="1.0"/>
<text x="113.70" y="408.77" font-size="5.6" text-anchor="end" font-family="'DejaVu Sans','Liberation Sans',sans-serif" fill="#262626" >Linus Torvalds... → Kuniyuki Iwashi...</text>
<rect x="116.0" y="416.76" width="242.78" height="13.85" fill="#ff7f50" stroke="#7a3820" stroke-width="1.0"/>
<text x="113.70" y="426.08" font-size="5.6" text-anchor="end" font-family="'DejaVu Sans','Liberation Sans',sans-serif" fill="#262626" >Jiri Pirko... → Ido Schimmel...</text>
<rect x="116.0" y="434.07" width="230.17" height="13.85" fill="#ff7f50" stroke="#7a3820" stroke-width="1.0"/>
<text x="113.70" y="443.39" font-size="5.6" text-anchor="end" font-family="'DejaVu Sans','Liberation Sans',sans-serif" fill="#262626" >Alexei Starovoi... → Daniel Borkmann...</text>
<rect x="116.0" y="451.38" width="220.71" height="13.85" fill="#ff7f50" stroke="#7a3820" stroke-width="1.0"/>
<text x="113.70" y="460.70" font-size="5.6" text-anchor="end" font-family="'DejaVu Sans','Liberation Sans',sans-serif" fill="#262626" >Paolo Bonzini... → Sean Christophe...</text>
<rect x="116.0" y="468.69" width="204.94" height="13.85" fill="#ff7f50" stroke="#7a3820" stroke-width="1.0"/>
<text x="113.70" y="478.01" font-size="5.6" text-anchor="end" font-family="'DejaVu Sans','Liberation Sans',sans-serif" fill="#262626" >Pablo Neira Ayu... → Florian Westpha...</text>
<rect x="116.0" y="486.00" width="204.94" height="13.85" fill="#ff7f50" stroke="#7a3820" stroke-width="1.0"/>
<text x="113.70" y="495.32" font-size="5.6" text-anchor="end" font-family="'DejaVu Sans','Liberation Sans',sans-serif" fill="#262626" >Jaegeuk Kim... → Chao Yu...</text>
<rect x="116.0" y="503.31" width="198.64" height="13.85" fill="#ff7f50" stroke="#7a3820" stroke-width="1.0"/>
<text x="113.70" y="512.63" font-size="5.6" text-anchor="end" font-family="'DejaVu Sans','Liberation Sans',sans-serif" fill="#262626" >Linus Torvalds... → Johan Hovold...</text>
<rect x="116.0" y="520.62" width="186.02" height="13.85" fill="#ff7f50" stroke="#7a3820" stroke-width="1.0"/>
<text x="113.70" y="529.94" font-size="5.6" text-anchor="end" font-family="'DejaVu Sans','Liberation Sans',sans-serif" fill="#262626" >Matthew Brost... → Matthew Auld...</text>
<rect x="116.0" y="537.93" width="176.57" height="13.85" fill="#ff7f50" stroke="#7a3820" stroke-width="1.0"/>
<text x="113.70" y="547.25" font-size="5.6" text-anchor="end" font-family="'DejaVu Sans','Liberation Sans',sans-serif" fill="#262626" >Nicholas Piggin... → Michael Ellerma...</text>
<rect x="116.0" y="555.24" width="160.80" height="13.85" fill="#ff7f50" stroke="#7a3820" stroke-width="1.0"/>
<text x="113.70" y="564.56" font-size="5.6" text-anchor="end" font-family="'DejaVu Sans','Liberation Sans',sans-serif" fill="#262626" >Felix Fietkau... → Lorenzo Biancon...</text>
<rect x="116.0" y="572.55" width="157.65" height="13.85" fill="#ff7f50" stroke="#7a3820" stroke-width="1.0"/>
<text x="113.70" y="581.87" font-size="5.6" text-anchor="end" font-family="'DejaVu Sans','Liberation Sans',sans-serif" fill="#262626" >Geliang Tang... → Matthieu Baerts...</text>
<rect x="116.0" y="589.86" width="157.65" height="13.85" fill="#ff7f50" stroke="#7a3820" stroke-width="1.0"/>
<text x="113.70" y="599.18" font-size="5.6" text-anchor="end" font-family="'DejaVu Sans','Liberation Sans',sans-serif" fill="#262626" >Greg Kroah-Hart... → Johan Hovold...</text>
<rect x="116.0" y="607.17" width="141.88" height="13.85" fill="#ff7f50" stroke="#7a3820" stroke-width="1.0"/>
<text x="113.70" y="616.49" font-size="5.6" text-anchor="end" font-family="'DejaVu Sans','Liberation Sans',sans-serif" fill="#262626" >Maarten Lankhor... → Ville Syrjälä...</text>
<rect x="116.0" y="352.3" width="327.75" height="280.8" fill="none" stroke="#cccccc" stroke-width="0.7"/>
<text x="279.88" y="339.00" font-size="8.43" text-anchor="middle" font-family="'DejaVu Sans','Liberation Sans',sans-serif" fill="#262626" >Top Cross-Author Fix Relationships</text>
<text x="279.88" y="348.60" font-size="8.43" text-anchor="middle" font-family="'DejaVu Sans','Liberation Sans',sans-serif" fill="#262626" >(Who fixes whose bugs most often)</text>
<text x="279.88" y="651.20" font-size="7.05" text-anchor="middle" font-family="'DejaVu Sans','Liberation Sans',sans-serif" fill="#262626" >Number of Fixes</text>
<rect x="472.4" y="356.0" width="192.5" height="305.0" rx="2" ry="2" fill="#dcf9dc" stroke="#9fb29f" stroke-width="0.8"/>
<g font-size="6.27" font-family="'DejaVu Sans Mono','Liberation Mono',monospace" fill="#1a1a1a" xml:space="preserve">
<text x="474.3" y="370.60" xml:space="preserve">SUPER-REVIEWER ANALYSIS</text>
<text x="474.3" y="377.98" xml:space="preserve">==================================================</text>
<text x="474.3" y="392.74" xml:space="preserve">CRITERIA FOR SUPER-REVIEWER:</text>
<text x="474.3" y="400.12" xml:space="preserve">  • Fixed 100+ bugs</text>
<text x="474.3" y="407.50" xml:space="preserve">  • Average fix lifetime 20%+ below global average</text>
<text x="474.3" y="422.26" xml:space="preserve">FOUND: 117 super-reviewers</text>
<text x="474.3" y="437.02" xml:space="preserve">TOP 10 SUPER-REVIEWERS:</text>
<text x="474.3" y="451.78" xml:space="preserve">  1. Arnd Bergmann</text>
<text x="474.3" y="459.16" xml:space="preserve">     Fixes: 2786, Avg lifetime: 1.2 yrs</text>
<text x="474.3" y="466.54" xml:space="preserve">  2. Dan Carpenter</text>
<text x="474.3" y="473.92" xml:space="preserve">     Fixes: 2707, Avg lifetime: 1.7 yrs</text>
<text x="474.3" y="481.30" xml:space="preserve">  3. Chris Wilson</text>
<text x="474.3" y="488.68" xml:space="preserve">     Fixes: 1242, Avg lifetime: 0.5 yrs</text>
<text x="474.3" y="496.06" xml:space="preserve">  4. Geert Uytterhoeven</text>
<text x="474.3" y="503.44" xml:space="preserve">     Fixes: 1089, Avg lifetime: 1.5 yrs</text>
<text x="474.3" y="510.82" xml:space="preserve">  5. Colin Ian King</text>
<text x="474.3" y="518.20" xml:space="preserve">     Fixes: 787, Avg lifetime: 1.5 yrs</text>
<text x="474.3" y="525.58" xml:space="preserve">  6. Takashi Iwai</text>
<text x="474.3" y="532.96" xml:space="preserve">     Fixes: 762, Avg lifetime: 1.3 yrs</text>
<text x="474.3" y="540.34" xml:space="preserve">  7. Johannes Berg</text>
<text x="474.3" y="547.72" xml:space="preserve">     Fixes: 603, Avg lifetime: 1.4 yrs</text>
<text x="474.3" y="555.10" xml:space="preserve">  8. Jakub Kicinski</text>
<text x="474.3" y="562.48" xml:space="preserve">     Fixes: 546, Avg lifetime: 1.5 yrs</text>
<text x="474.3" y="569.86" xml:space="preserve">  9. Nathan Chancellor</text>
<text x="474.3" y="577.24" xml:space="preserve">     Fixes: 544, Avg lifetime: 1.5 yrs</text>
<text x="474.3" y="584.62" xml:space="preserve">  10. Ville Syrjälä</text>
<text x="474.3" y="592.00" xml:space="preserve">     Fixes: 522, Avg lifetime: 0.8 yrs</text>
<text x="474.3" y="606.76" xml:space="preserve">IMPACT:</text>
<text x="474.3" y="614.14" xml:space="preserve">  • Global avg lifetime: 2.1 years</text>
<text x="474.3" y="621.52" xml:space="preserve">  • Super-reviewer avg:  1.1 years</text>
<text x="474.3" y="628.90" xml:space="preserve">  • Difference:          1.0 years faster</text>
<text x="474.3" y="643.66" xml:space="preserve">INSIGHT: Bugs fixed by super-reviewers are found</text>
<text x="474.3" y="651.04" xml:space="preserve">47% faster than average.</text>
</g>
</svg>
</body></html>
